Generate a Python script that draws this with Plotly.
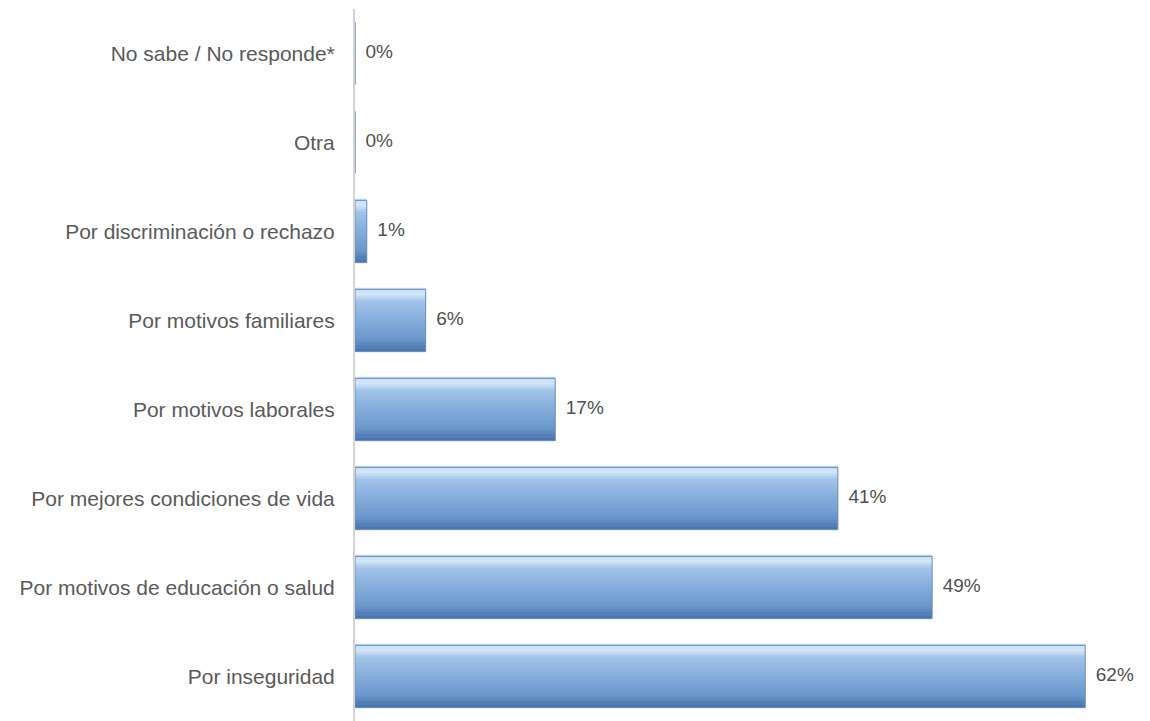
import plotly.graph_objects as go

categories = [
    "Por inseguridad",
    "Por motivos de educación o salud",
    "Por mejores condiciones de vida",
    "Por motivos laborales",
    "Por motivos familiares",
    "Por discriminación o rechazo",
    "Otra",
    "No sabe / No responde*",
]
values = [62, 49, 41, 17, 6, 1, 0, 0]
labels = ["62%", "49%", "41%", "17%", "6%", "1%", "0%", "0%"]


def hex_to_rgb(h):
    h = h.lstrip("#")
    return tuple(int(h[i:i + 2], 16) for i in (0, 2, 4))


def interp(stops, n):
    out = []
    for k in range(n):
        t = k / (n - 1)
        for j in range(len(stops) - 1):
            t0, c0 = stops[j]
            t1, c1 = stops[j + 1]
            if t0 <= t <= t1:
                f = (t - t0) / (t1 - t0) if t1 > t0 else 0
                a, b = hex_to_rgb(c0), hex_to_rgb(c1)
                out.append("rgb(%d,%d,%d)" % tuple(round(a[i] + (b[i] - a[i]) * f) for i in range(3)))
                break
    return out


# vertical gradient stops (top -> bottom)
grad_stops = [(0.0, "#c4dcf3"), (0.08, "#d6e8f8"), (0.2, "#a3c4ea"), (0.5, "#86aedc"),
              (0.85, "#6a96cc"), (1.0, "#4a76ae")]
n = 24
strip_colors = interp(grad_stops, n)
bar_w = 0.70
sw = bar_w / n

fig = go.Figure()
for i, c in enumerate(strip_colors):
    w = sw * 1.6 if i < n - 1 else sw
    fig.add_trace(go.Bar(
        x=values, y=categories, orientation="h",
        width=w, offset=bar_w / 2 - (i + 1) * sw,
        marker=dict(color=c, line=dict(width=0)),
        hoverinfo="skip", showlegend=False,
    ))
# outline
fig.add_trace(go.Bar(
    x=values, y=categories, orientation="h",
    width=bar_w, offset=-bar_w / 2,
    marker=dict(color="rgba(0,0,0,0)", line=dict(color="#6a8cb8", width=1)),
    hoverinfo="skip", showlegend=False,
))
# value labels
fig.add_trace(go.Scatter(
    x=values, y=categories, mode="text", text=["  " + t for t in labels],
    textposition="middle right",
    textfont=dict(family="Liberation Sans, Arial, sans-serif", size=19, color="#505050"),
    cliponaxis=False, hoverinfo="skip", showlegend=False,
))

fig.update_layout(
    width=1150, height=721,
    margin=dict(l=347, r=8, t=1, b=8),
    paper_bgcolor="white", plot_bgcolor="white",
    barmode="overlay",
    font=dict(family="Liberation Sans, Arial, sans-serif", size=21, color="#595959"),
    xaxis=dict(range=[0, 67.5], visible=False, fixedrange=True),
    yaxis=dict(
        type="category", categoryorder="array", categoryarray=categories,
        range=[-0.5, 7.5], showline=True, linecolor="#d4d4d4", linewidth=2,
        showgrid=False, ticks="", ticklabelstandoff=14, zeroline=False,
        automargin=False,
        tickfont=dict(size=21, color="#5a5a5a"),
    ),
)

fig.write_html("out.html")
